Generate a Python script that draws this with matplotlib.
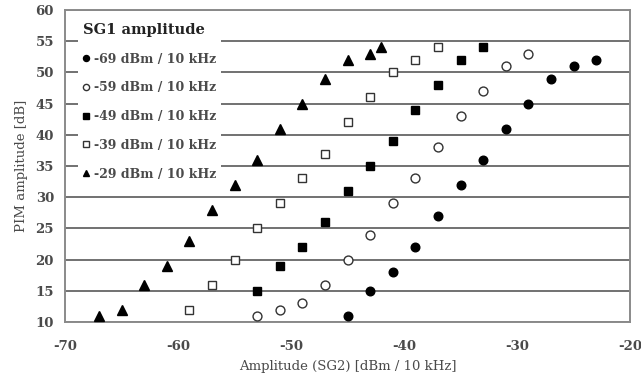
import matplotlib
matplotlib.use("Agg")
import matplotlib.pyplot as plt

# PIM amplitude vs SG2 amplitude, one series per SG1 level
sg1_labels = ["-69 dBm / 10 kHz", "-59 dBm / 10 kHz", "-49 dBm / 10 kHz",
              "-39 dBm / 10 kHz", "-29 dBm / 10 kHz"]

sg2_m69 = [-45, -43, -41, -39, -37, -35, -33, -31, -29, -27, -25, -23]
pim_m69 = [11, 15, 18, 22, 27, 32, 36, 41, 45, 49, 51, 52]

sg2_m59 = [-53, -51, -49, -47, -45, -43, -41, -39, -37, -35, -33, -31, -29]
pim_m59 = [11, 12, 13, 16, 20, 24, 29, 33, 38, 43, 47, 51, 53]

sg2_m49 = [-53, -51, -49, -47, -45, -43, -41, -39, -37, -35, -33]
pim_m49 = [15, 19, 22, 26, 31, 35, 39, 44, 48, 52, 54]

sg2_m39 = [-59, -57, -55, -53, -51, -49, -47, -45, -43, -41, -39, -37]
pim_m39 = [12, 16, 20, 25, 29, 33, 37, 42, 46, 50, 52, 54]

sg2_m29 = [-67, -65, -63, -61, -59, -57, -55, -53, -51, -49, -47, -45, -43, -42]
pim_m29 = [11, 12, 16, 19, 23, 28, 32, 36, 41, 45, 49, 52, 53, 54]

series = [
    (sg2_m69, pim_m69, dict(marker="o", color="black", ms=6.2)),
    (sg2_m59, pim_m59, dict(marker="o", mfc="white", mec="#333333", ms=6.4, mew=1.0)),
    (sg2_m49, pim_m49, dict(marker="s", color="black", ms=5.8)),
    (sg2_m39, pim_m39, dict(marker="s", mfc="white", mec="#333333", ms=6.0, mew=1.0)),
    (sg2_m29, pim_m29, dict(marker="^", color="black", ms=6.6)),
]

text_col = "#4a4a4a"
plt.rcParams.update({"font.family": "DejaVu Serif", "font.weight": "bold",
                     "font.size": 9.5, "text.color": text_col,
                     "axes.unicode_minus": False})

fig = plt.figure(figsize=(6.41, 3.81), dpi=100)
ax = fig.add_axes([65 / 641, 1 - 322 / 381, 565 / 641, 312 / 381])

for (x, y, style), lab in zip(series, sg1_labels):
    ax.plot(x, y, ls="none", label=lab, zorder=3, **style)

ax.set_xlim(-70, -20)
ax.set_ylim(10, 60)
ax.set_xticks(range(-70, -19, 10))
ax.set_yticks(range(10, 61, 5))
ax.grid(axis="y", color="#666666", lw=1.3, zorder=0)
ax.set_axisbelow(True)
ax.tick_params(axis="y", length=0, labelcolor=text_col, labelsize=9.5, pad=8)
ax.tick_params(axis="x", length=0, labelcolor=text_col, labelsize=9.5, pad=13)
for s in ax.spines.values():
    s.set_color("#8a8a8a")
    s.set_linewidth(1.4)

ax.set_xlabel("Amplitude (SG2) [dBm / 10 kHz]", fontsize=9.5, color=text_col, labelpad=5)
ax.set_ylabel("PIM amplitude [dB]", fontsize=9.5, color=text_col, labelpad=5)

leg = ax.legend(title="SG1 amplitude", loc="upper left",
                bbox_to_anchor=(0.012, 0.995), frameon=True, fancybox=False,
                edgecolor="none", facecolor="white", framealpha=1.0,
                markerscale=0.7, handlelength=0.5, handletextpad=0.35,
                labelspacing=1.26, borderpad=0.4, fontsize=9,
                title_fontproperties={"weight": "bold", "size": 10.5})
leg._legend_box.align = "left"
for t in leg.get_texts():
    t.set_color(text_col)
leg.get_title().set_color("#222222")

fig.savefig("out.png", dpi=100)
